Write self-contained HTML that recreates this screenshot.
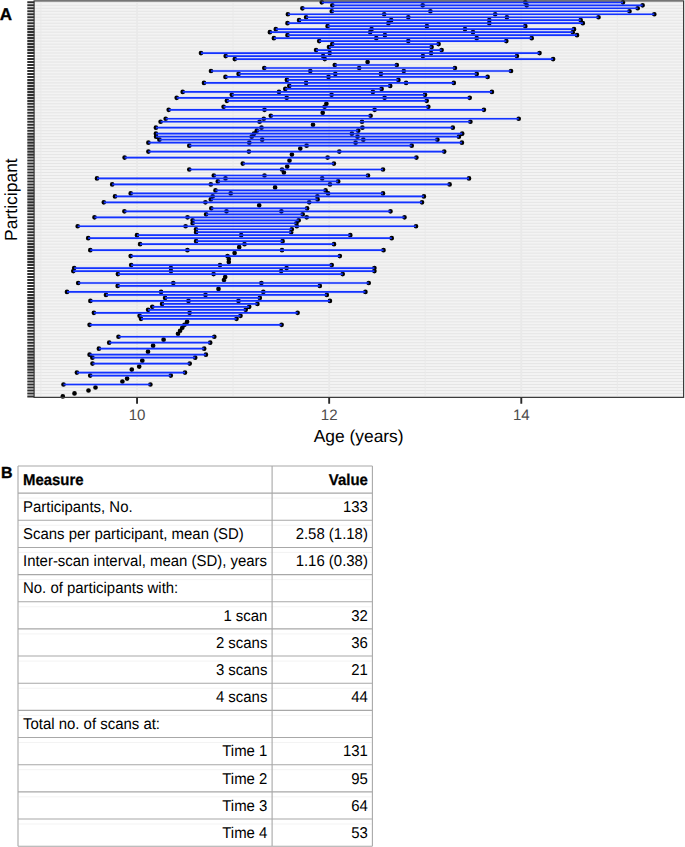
<!DOCTYPE html>
<html><head><meta charset="utf-8"><title>Figure</title><style>
html,body{margin:0;padding:0;background:#fff;}
body{width:685px;height:847px;overflow:hidden;position:relative;font-family:"Liberation Sans",sans-serif;}
svg{position:absolute;left:0;top:0;display:block;}
text{font-family:"Liberation Sans",sans-serif;text-rendering:geometricPrecision;}
</style></head><body>
<svg width="685" height="847" viewBox="0 0 685 847">
<rect x="34.1" y="0.9" width="649.5" height="396.5" fill="#f3f3f3"/>
<path d="M34.1 2.30H683.6M34.1 5.29H683.6M34.1 8.27H683.6M34.1 11.26H683.6M34.1 14.24H683.6M34.1 17.23H683.6M34.1 20.22H683.6M34.1 23.20H683.6M34.1 26.19H683.6M34.1 29.17H683.6M34.1 32.16H683.6M34.1 35.15H683.6M34.1 38.13H683.6M34.1 41.12H683.6M34.1 44.10H683.6M34.1 47.09H683.6M34.1 50.08H683.6M34.1 53.06H683.6M34.1 56.05H683.6M34.1 59.03H683.6M34.1 62.02H683.6M34.1 65.01H683.6M34.1 67.99H683.6M34.1 70.98H683.6M34.1 73.96H683.6M34.1 76.95H683.6M34.1 79.94H683.6M34.1 82.92H683.6M34.1 85.91H683.6M34.1 88.89H683.6M34.1 91.88H683.6M34.1 94.87H683.6M34.1 97.85H683.6M34.1 100.84H683.6M34.1 103.82H683.6M34.1 106.81H683.6M34.1 109.80H683.6M34.1 112.78H683.6M34.1 115.77H683.6M34.1 118.75H683.6M34.1 121.74H683.6M34.1 124.73H683.6M34.1 127.71H683.6M34.1 130.70H683.6M34.1 133.68H683.6M34.1 136.67H683.6M34.1 139.66H683.6M34.1 142.64H683.6M34.1 145.63H683.6M34.1 148.61H683.6M34.1 151.60H683.6M34.1 154.59H683.6M34.1 157.57H683.6M34.1 160.56H683.6M34.1 163.54H683.6M34.1 166.53H683.6M34.1 169.52H683.6M34.1 172.50H683.6M34.1 175.49H683.6M34.1 178.47H683.6M34.1 181.46H683.6M34.1 184.45H683.6M34.1 187.43H683.6M34.1 190.42H683.6M34.1 193.40H683.6M34.1 196.39H683.6M34.1 199.38H683.6M34.1 202.36H683.6M34.1 205.35H683.6M34.1 208.33H683.6M34.1 211.32H683.6M34.1 214.31H683.6M34.1 217.29H683.6M34.1 220.28H683.6M34.1 223.26H683.6M34.1 226.25H683.6M34.1 229.24H683.6M34.1 232.22H683.6M34.1 235.21H683.6M34.1 238.19H683.6M34.1 241.18H683.6M34.1 244.17H683.6M34.1 247.15H683.6M34.1 250.14H683.6M34.1 253.12H683.6M34.1 256.11H683.6M34.1 259.10H683.6M34.1 262.08H683.6M34.1 265.07H683.6M34.1 268.05H683.6M34.1 271.04H683.6M34.1 274.03H683.6M34.1 277.01H683.6M34.1 280.00H683.6M34.1 282.98H683.6M34.1 285.97H683.6M34.1 288.96H683.6M34.1 291.94H683.6M34.1 294.93H683.6M34.1 297.91H683.6M34.1 300.90H683.6M34.1 303.89H683.6M34.1 306.87H683.6M34.1 309.86H683.6M34.1 312.84H683.6M34.1 315.83H683.6M34.1 318.82H683.6M34.1 321.80H683.6M34.1 324.79H683.6M34.1 327.77H683.6M34.1 330.76H683.6M34.1 333.75H683.6M34.1 336.73H683.6M34.1 339.72H683.6M34.1 342.70H683.6M34.1 345.69H683.6M34.1 348.68H683.6M34.1 351.66H683.6M34.1 354.65H683.6M34.1 357.63H683.6M34.1 360.62H683.6M34.1 363.61H683.6M34.1 366.59H683.6M34.1 369.58H683.6M34.1 372.56H683.6M34.1 375.55H683.6M34.1 378.54H683.6M34.1 381.52H683.6M34.1 384.51H683.6M34.1 387.49H683.6M34.1 390.48H683.6M34.1 393.47H683.6M34.1 396.45H683.6" stroke="#e5e5e5" stroke-width="1.0" fill="none"/>
<path d="M40.99 0.9V397.4M233.11 0.9V397.4M425.23 0.9V397.4M617.35 0.9V397.4" stroke="#e9e9e9" stroke-width="0.9" fill="none"/>
<path d="M137.05 0.9V397.4M329.17 0.9V397.4M521.29 0.9V397.4" stroke="#e9e9e9" stroke-width="1.8" fill="none"/>
<path d="M319.45 2.30a2.35 2.35 0 1 0 4.7 0a2.35 2.35 0 1 0 -4.7 0M522.95 2.30a2.35 2.35 0 1 0 4.7 0a2.35 2.35 0 1 0 -4.7 0M620.65 2.30a2.35 2.35 0 1 0 4.7 0a2.35 2.35 0 1 0 -4.7 0M329.95 5.29a2.35 2.35 0 1 0 4.7 0a2.35 2.35 0 1 0 -4.7 0M420.35 5.29a2.35 2.35 0 1 0 4.7 0a2.35 2.35 0 1 0 -4.7 0M524.35 5.29a2.35 2.35 0 1 0 4.7 0a2.35 2.35 0 1 0 -4.7 0M640.25 5.29a2.35 2.35 0 1 0 4.7 0a2.35 2.35 0 1 0 -4.7 0M300.05 8.27a2.35 2.35 0 1 0 4.7 0a2.35 2.35 0 1 0 -4.7 0M635.35 8.27a2.35 2.35 0 1 0 4.7 0a2.35 2.35 0 1 0 -4.7 0M329.45 11.26a2.35 2.35 0 1 0 4.7 0a2.35 2.35 0 1 0 -4.7 0M428.05 11.26a2.35 2.35 0 1 0 4.7 0a2.35 2.35 0 1 0 -4.7 0M627.15 11.26a2.35 2.35 0 1 0 4.7 0a2.35 2.35 0 1 0 -4.7 0M285.55 14.24a2.35 2.35 0 1 0 4.7 0a2.35 2.35 0 1 0 -4.7 0M381.85 14.24a2.35 2.35 0 1 0 4.7 0a2.35 2.35 0 1 0 -4.7 0M492.85 14.24a2.35 2.35 0 1 0 4.7 0a2.35 2.35 0 1 0 -4.7 0M651.95 14.24a2.35 2.35 0 1 0 4.7 0a2.35 2.35 0 1 0 -4.7 0M303.75 17.23a2.35 2.35 0 1 0 4.7 0a2.35 2.35 0 1 0 -4.7 0M405.95 17.23a2.35 2.35 0 1 0 4.7 0a2.35 2.35 0 1 0 -4.7 0M504.55 17.23a2.35 2.35 0 1 0 4.7 0a2.35 2.35 0 1 0 -4.7 0M596.15 17.23a2.35 2.35 0 1 0 4.7 0a2.35 2.35 0 1 0 -4.7 0M296.75 20.22a2.35 2.35 0 1 0 4.7 0a2.35 2.35 0 1 0 -4.7 0M388.85 20.22a2.35 2.35 0 1 0 4.7 0a2.35 2.35 0 1 0 -4.7 0M486.95 20.22a2.35 2.35 0 1 0 4.7 0a2.35 2.35 0 1 0 -4.7 0M578.35 20.22a2.35 2.35 0 1 0 4.7 0a2.35 2.35 0 1 0 -4.7 0M285.15 23.20a2.35 2.35 0 1 0 4.7 0a2.35 2.35 0 1 0 -4.7 0M386.05 23.20a2.35 2.35 0 1 0 4.7 0a2.35 2.35 0 1 0 -4.7 0M486.95 23.20a2.35 2.35 0 1 0 4.7 0a2.35 2.35 0 1 0 -4.7 0M580.45 23.20a2.35 2.35 0 1 0 4.7 0a2.35 2.35 0 1 0 -4.7 0M325.25 26.19a2.35 2.35 0 1 0 4.7 0a2.35 2.35 0 1 0 -4.7 0M424.55 26.19a2.35 2.35 0 1 0 4.7 0a2.35 2.35 0 1 0 -4.7 0M522.95 26.19a2.35 2.35 0 1 0 4.7 0a2.35 2.35 0 1 0 -4.7 0M273.45 29.17a2.35 2.35 0 1 0 4.7 0a2.35 2.35 0 1 0 -4.7 0M369.25 29.17a2.35 2.35 0 1 0 4.7 0a2.35 2.35 0 1 0 -4.7 0M462.65 29.17a2.35 2.35 0 1 0 4.7 0a2.35 2.35 0 1 0 -4.7 0M571.65 29.17a2.35 2.35 0 1 0 4.7 0a2.35 2.35 0 1 0 -4.7 0M267.55 32.16a2.35 2.35 0 1 0 4.7 0a2.35 2.35 0 1 0 -4.7 0M367.85 32.16a2.35 2.35 0 1 0 4.7 0a2.35 2.35 0 1 0 -4.7 0M470.65 32.16a2.35 2.35 0 1 0 4.7 0a2.35 2.35 0 1 0 -4.7 0M570.45 32.16a2.35 2.35 0 1 0 4.7 0a2.35 2.35 0 1 0 -4.7 0M285.15 35.15a2.35 2.35 0 1 0 4.7 0a2.35 2.35 0 1 0 -4.7 0M382.55 35.15a2.35 2.35 0 1 0 4.7 0a2.35 2.35 0 1 0 -4.7 0M574.65 35.15a2.35 2.35 0 1 0 4.7 0a2.35 2.35 0 1 0 -4.7 0M271.55 38.13a2.35 2.35 0 1 0 4.7 0a2.35 2.35 0 1 0 -4.7 0M373.95 38.13a2.35 2.35 0 1 0 4.7 0a2.35 2.35 0 1 0 -4.7 0M474.35 38.13a2.35 2.35 0 1 0 4.7 0a2.35 2.35 0 1 0 -4.7 0M529.35 38.13a2.35 2.35 0 1 0 4.7 0a2.35 2.35 0 1 0 -4.7 0M316.85 41.12a2.35 2.35 0 1 0 4.7 0a2.35 2.35 0 1 0 -4.7 0M405.95 41.12a2.35 2.35 0 1 0 4.7 0a2.35 2.35 0 1 0 -4.7 0M503.95 41.12a2.35 2.35 0 1 0 4.7 0a2.35 2.35 0 1 0 -4.7 0M329.95 44.10a2.35 2.35 0 1 0 4.7 0a2.35 2.35 0 1 0 -4.7 0M436.25 44.10a2.35 2.35 0 1 0 4.7 0a2.35 2.35 0 1 0 -4.7 0M326.65 47.09a2.35 2.35 0 1 0 4.7 0a2.35 2.35 0 1 0 -4.7 0M429.25 47.09a2.35 2.35 0 1 0 4.7 0a2.35 2.35 0 1 0 -4.7 0M313.75 50.08a2.35 2.35 0 1 0 4.7 0a2.35 2.35 0 1 0 -4.7 0M439.25 50.08a2.35 2.35 0 1 0 4.7 0a2.35 2.35 0 1 0 -4.7 0M198.65 53.06a2.35 2.35 0 1 0 4.7 0a2.35 2.35 0 1 0 -4.7 0M327.35 53.06a2.35 2.35 0 1 0 4.7 0a2.35 2.35 0 1 0 -4.7 0M428.75 53.06a2.35 2.35 0 1 0 4.7 0a2.35 2.35 0 1 0 -4.7 0M537.15 53.06a2.35 2.35 0 1 0 4.7 0a2.35 2.35 0 1 0 -4.7 0M223.35 56.05a2.35 2.35 0 1 0 4.7 0a2.35 2.35 0 1 0 -4.7 0M320.75 56.05a2.35 2.35 0 1 0 4.7 0a2.35 2.35 0 1 0 -4.7 0M420.55 56.05a2.35 2.35 0 1 0 4.7 0a2.35 2.35 0 1 0 -4.7 0M514.55 56.05a2.35 2.35 0 1 0 4.7 0a2.35 2.35 0 1 0 -4.7 0M232.45 59.03a2.35 2.35 0 1 0 4.7 0a2.35 2.35 0 1 0 -4.7 0M322.45 59.03a2.35 2.35 0 1 0 4.7 0a2.35 2.35 0 1 0 -4.7 0M550.75 59.03a2.35 2.35 0 1 0 4.7 0a2.35 2.35 0 1 0 -4.7 0M365.25 62.02a2.35 2.35 0 1 0 4.7 0a2.35 2.35 0 1 0 -4.7 0M332.45 65.01a2.35 2.35 0 1 0 4.7 0a2.35 2.35 0 1 0 -4.7 0M394.45 65.01a2.35 2.35 0 1 0 4.7 0a2.35 2.35 0 1 0 -4.7 0M261.95 67.99a2.35 2.35 0 1 0 4.7 0a2.35 2.35 0 1 0 -4.7 0M356.85 67.99a2.35 2.35 0 1 0 4.7 0a2.35 2.35 0 1 0 -4.7 0M452.55 67.99a2.35 2.35 0 1 0 4.7 0a2.35 2.35 0 1 0 -4.7 0M208.65 70.98a2.35 2.35 0 1 0 4.7 0a2.35 2.35 0 1 0 -4.7 0M307.95 70.98a2.35 2.35 0 1 0 4.7 0a2.35 2.35 0 1 0 -4.7 0M401.45 70.98a2.35 2.35 0 1 0 4.7 0a2.35 2.35 0 1 0 -4.7 0M508.65 70.98a2.35 2.35 0 1 0 4.7 0a2.35 2.35 0 1 0 -4.7 0M236.25 73.96a2.35 2.35 0 1 0 4.7 0a2.35 2.35 0 1 0 -4.7 0M332.95 73.96a2.35 2.35 0 1 0 4.7 0a2.35 2.35 0 1 0 -4.7 0M378.55 73.96a2.35 2.35 0 1 0 4.7 0a2.35 2.35 0 1 0 -4.7 0M474.35 73.96a2.35 2.35 0 1 0 4.7 0a2.35 2.35 0 1 0 -4.7 0M223.15 76.95a2.35 2.35 0 1 0 4.7 0a2.35 2.35 0 1 0 -4.7 0M326.15 76.95a2.35 2.35 0 1 0 4.7 0a2.35 2.35 0 1 0 -4.7 0M485.25 76.95a2.35 2.35 0 1 0 4.7 0a2.35 2.35 0 1 0 -4.7 0M284.55 79.94a2.35 2.35 0 1 0 4.7 0a2.35 2.35 0 1 0 -4.7 0M396.05 79.94a2.35 2.35 0 1 0 4.7 0a2.35 2.35 0 1 0 -4.7 0M201.65 82.92a2.35 2.35 0 1 0 4.7 0a2.35 2.35 0 1 0 -4.7 0M303.75 82.92a2.35 2.35 0 1 0 4.7 0a2.35 2.35 0 1 0 -4.7 0M403.75 82.92a2.35 2.35 0 1 0 4.7 0a2.35 2.35 0 1 0 -4.7 0M451.45 82.92a2.35 2.35 0 1 0 4.7 0a2.35 2.35 0 1 0 -4.7 0M286.95 85.91a2.35 2.35 0 1 0 4.7 0a2.35 2.35 0 1 0 -4.7 0M387.85 85.91a2.35 2.35 0 1 0 4.7 0a2.35 2.35 0 1 0 -4.7 0M282.95 88.89a2.35 2.35 0 1 0 4.7 0a2.35 2.35 0 1 0 -4.7 0M379.25 88.89a2.35 2.35 0 1 0 4.7 0a2.35 2.35 0 1 0 -4.7 0M180.35 91.88a2.35 2.35 0 1 0 4.7 0a2.35 2.35 0 1 0 -4.7 0M276.65 91.88a2.35 2.35 0 1 0 4.7 0a2.35 2.35 0 1 0 -4.7 0M370.55 91.88a2.35 2.35 0 1 0 4.7 0a2.35 2.35 0 1 0 -4.7 0M489.55 91.88a2.35 2.35 0 1 0 4.7 0a2.35 2.35 0 1 0 -4.7 0M229.45 94.87a2.35 2.35 0 1 0 4.7 0a2.35 2.35 0 1 0 -4.7 0M329.25 94.87a2.35 2.35 0 1 0 4.7 0a2.35 2.35 0 1 0 -4.7 0M422.65 94.87a2.35 2.35 0 1 0 4.7 0a2.35 2.35 0 1 0 -4.7 0M174.35 97.85a2.35 2.35 0 1 0 4.7 0a2.35 2.35 0 1 0 -4.7 0M284.35 97.85a2.35 2.35 0 1 0 4.7 0a2.35 2.35 0 1 0 -4.7 0M382.25 97.85a2.35 2.35 0 1 0 4.7 0a2.35 2.35 0 1 0 -4.7 0M467.35 97.85a2.35 2.35 0 1 0 4.7 0a2.35 2.35 0 1 0 -4.7 0M224.55 100.84a2.35 2.35 0 1 0 4.7 0a2.35 2.35 0 1 0 -4.7 0M424.35 100.84a2.35 2.35 0 1 0 4.7 0a2.35 2.35 0 1 0 -4.7 0M324.05 103.82a2.35 2.35 0 1 0 4.7 0a2.35 2.35 0 1 0 -4.7 0M221.25 106.81a2.35 2.35 0 1 0 4.7 0a2.35 2.35 0 1 0 -4.7 0M322.25 106.81a2.35 2.35 0 1 0 4.7 0a2.35 2.35 0 1 0 -4.7 0M425.95 106.81a2.35 2.35 0 1 0 4.7 0a2.35 2.35 0 1 0 -4.7 0M166.35 109.80a2.35 2.35 0 1 0 4.7 0a2.35 2.35 0 1 0 -4.7 0M262.15 109.80a2.35 2.35 0 1 0 4.7 0a2.35 2.35 0 1 0 -4.7 0M372.25 109.80a2.35 2.35 0 1 0 4.7 0a2.35 2.35 0 1 0 -4.7 0M481.55 109.80a2.35 2.35 0 1 0 4.7 0a2.35 2.35 0 1 0 -4.7 0M320.35 112.78a2.35 2.35 0 1 0 4.7 0a2.35 2.35 0 1 0 -4.7 0M268.45 115.77a2.35 2.35 0 1 0 4.7 0a2.35 2.35 0 1 0 -4.7 0M368.25 115.77a2.35 2.35 0 1 0 4.7 0a2.35 2.35 0 1 0 -4.7 0M163.35 118.75a2.35 2.35 0 1 0 4.7 0a2.35 2.35 0 1 0 -4.7 0M261.45 118.75a2.35 2.35 0 1 0 4.7 0a2.35 2.35 0 1 0 -4.7 0M516.35 118.75a2.35 2.35 0 1 0 4.7 0a2.35 2.35 0 1 0 -4.7 0M158.25 121.74a2.35 2.35 0 1 0 4.7 0a2.35 2.35 0 1 0 -4.7 0M257.25 121.74a2.35 2.35 0 1 0 4.7 0a2.35 2.35 0 1 0 -4.7 0M359.65 121.74a2.35 2.35 0 1 0 4.7 0a2.35 2.35 0 1 0 -4.7 0M468.05 121.74a2.35 2.35 0 1 0 4.7 0a2.35 2.35 0 1 0 -4.7 0M310.65 124.73a2.35 2.35 0 1 0 4.7 0a2.35 2.35 0 1 0 -4.7 0M153.55 127.71a2.35 2.35 0 1 0 4.7 0a2.35 2.35 0 1 0 -4.7 0M259.15 127.71a2.35 2.35 0 1 0 4.7 0a2.35 2.35 0 1 0 -4.7 0M360.05 127.71a2.35 2.35 0 1 0 4.7 0a2.35 2.35 0 1 0 -4.7 0M450.45 127.71a2.35 2.35 0 1 0 4.7 0a2.35 2.35 0 1 0 -4.7 0M254.45 130.70a2.35 2.35 0 1 0 4.7 0a2.35 2.35 0 1 0 -4.7 0M355.85 130.70a2.35 2.35 0 1 0 4.7 0a2.35 2.35 0 1 0 -4.7 0M153.55 133.68a2.35 2.35 0 1 0 4.7 0a2.35 2.35 0 1 0 -4.7 0M251.65 133.68a2.35 2.35 0 1 0 4.7 0a2.35 2.35 0 1 0 -4.7 0M349.55 133.68a2.35 2.35 0 1 0 4.7 0a2.35 2.35 0 1 0 -4.7 0M459.85 133.68a2.35 2.35 0 1 0 4.7 0a2.35 2.35 0 1 0 -4.7 0M153.75 136.67a2.35 2.35 0 1 0 4.7 0a2.35 2.35 0 1 0 -4.7 0M249.35 136.67a2.35 2.35 0 1 0 4.7 0a2.35 2.35 0 1 0 -4.7 0M355.15 136.67a2.35 2.35 0 1 0 4.7 0a2.35 2.35 0 1 0 -4.7 0M456.55 136.67a2.35 2.35 0 1 0 4.7 0a2.35 2.35 0 1 0 -4.7 0M157.05 139.66a2.35 2.35 0 1 0 4.7 0a2.35 2.35 0 1 0 -4.7 0M259.85 139.66a2.35 2.35 0 1 0 4.7 0a2.35 2.35 0 1 0 -4.7 0M360.95 139.66a2.35 2.35 0 1 0 4.7 0a2.35 2.35 0 1 0 -4.7 0M435.05 139.66a2.35 2.35 0 1 0 4.7 0a2.35 2.35 0 1 0 -4.7 0M146.05 142.64a2.35 2.35 0 1 0 4.7 0a2.35 2.35 0 1 0 -4.7 0M246.95 142.64a2.35 2.35 0 1 0 4.7 0a2.35 2.35 0 1 0 -4.7 0M353.25 142.64a2.35 2.35 0 1 0 4.7 0a2.35 2.35 0 1 0 -4.7 0M459.55 142.64a2.35 2.35 0 1 0 4.7 0a2.35 2.35 0 1 0 -4.7 0M186.95 145.63a2.35 2.35 0 1 0 4.7 0a2.35 2.35 0 1 0 -4.7 0M304.25 145.63a2.35 2.35 0 1 0 4.7 0a2.35 2.35 0 1 0 -4.7 0M409.35 145.63a2.35 2.35 0 1 0 4.7 0a2.35 2.35 0 1 0 -4.7 0M297.95 148.61a2.35 2.35 0 1 0 4.7 0a2.35 2.35 0 1 0 -4.7 0M146.05 151.60a2.35 2.35 0 1 0 4.7 0a2.35 2.35 0 1 0 -4.7 0M246.55 151.60a2.35 2.35 0 1 0 4.7 0a2.35 2.35 0 1 0 -4.7 0M336.95 151.60a2.35 2.35 0 1 0 4.7 0a2.35 2.35 0 1 0 -4.7 0M441.85 151.60a2.35 2.35 0 1 0 4.7 0a2.35 2.35 0 1 0 -4.7 0M289.55 154.59a2.35 2.35 0 1 0 4.7 0a2.35 2.35 0 1 0 -4.7 0M122.25 157.57a2.35 2.35 0 1 0 4.7 0a2.35 2.35 0 1 0 -4.7 0M325.25 157.57a2.35 2.35 0 1 0 4.7 0a2.35 2.35 0 1 0 -4.7 0M414.05 157.57a2.35 2.35 0 1 0 4.7 0a2.35 2.35 0 1 0 -4.7 0M287.15 160.56a2.35 2.35 0 1 0 4.7 0a2.35 2.35 0 1 0 -4.7 0M240.45 163.54a2.35 2.35 0 1 0 4.7 0a2.35 2.35 0 1 0 -4.7 0M331.55 163.54a2.35 2.35 0 1 0 4.7 0a2.35 2.35 0 1 0 -4.7 0M284.85 166.53a2.35 2.35 0 1 0 4.7 0a2.35 2.35 0 1 0 -4.7 0M186.95 169.52a2.35 2.35 0 1 0 4.7 0a2.35 2.35 0 1 0 -4.7 0M279.65 169.52a2.35 2.35 0 1 0 4.7 0a2.35 2.35 0 1 0 -4.7 0M380.65 169.52a2.35 2.35 0 1 0 4.7 0a2.35 2.35 0 1 0 -4.7 0M281.55 172.50a2.35 2.35 0 1 0 4.7 0a2.35 2.35 0 1 0 -4.7 0M211.45 175.49a2.35 2.35 0 1 0 4.7 0a2.35 2.35 0 1 0 -4.7 0M262.15 175.49a2.35 2.35 0 1 0 4.7 0a2.35 2.35 0 1 0 -4.7 0M365.65 175.49a2.35 2.35 0 1 0 4.7 0a2.35 2.35 0 1 0 -4.7 0M94.65 178.47a2.35 2.35 0 1 0 4.7 0a2.35 2.35 0 1 0 -4.7 0M223.15 178.47a2.35 2.35 0 1 0 4.7 0a2.35 2.35 0 1 0 -4.7 0M319.85 178.47a2.35 2.35 0 1 0 4.7 0a2.35 2.35 0 1 0 -4.7 0M466.65 178.47a2.35 2.35 0 1 0 4.7 0a2.35 2.35 0 1 0 -4.7 0M215.45 181.46a2.35 2.35 0 1 0 4.7 0a2.35 2.35 0 1 0 -4.7 0M335.85 181.46a2.35 2.35 0 1 0 4.7 0a2.35 2.35 0 1 0 -4.7 0M109.85 184.45a2.35 2.35 0 1 0 4.7 0a2.35 2.35 0 1 0 -4.7 0M208.45 184.45a2.35 2.35 0 1 0 4.7 0a2.35 2.35 0 1 0 -4.7 0M327.65 184.45a2.35 2.35 0 1 0 4.7 0a2.35 2.35 0 1 0 -4.7 0M447.25 184.45a2.35 2.35 0 1 0 4.7 0a2.35 2.35 0 1 0 -4.7 0M272.75 187.43a2.35 2.35 0 1 0 4.7 0a2.35 2.35 0 1 0 -4.7 0M213.15 190.42a2.35 2.35 0 1 0 4.7 0a2.35 2.35 0 1 0 -4.7 0M323.25 190.42a2.35 2.35 0 1 0 4.7 0a2.35 2.35 0 1 0 -4.7 0M128.35 193.40a2.35 2.35 0 1 0 4.7 0a2.35 2.35 0 1 0 -4.7 0M228.35 193.40a2.35 2.35 0 1 0 4.7 0a2.35 2.35 0 1 0 -4.7 0M325.75 193.40a2.35 2.35 0 1 0 4.7 0a2.35 2.35 0 1 0 -4.7 0M380.65 193.40a2.35 2.35 0 1 0 4.7 0a2.35 2.35 0 1 0 -4.7 0M112.65 196.39a2.35 2.35 0 1 0 4.7 0a2.35 2.35 0 1 0 -4.7 0M210.35 196.39a2.35 2.35 0 1 0 4.7 0a2.35 2.35 0 1 0 -4.7 0M315.05 196.39a2.35 2.35 0 1 0 4.7 0a2.35 2.35 0 1 0 -4.7 0M421.55 196.39a2.35 2.35 0 1 0 4.7 0a2.35 2.35 0 1 0 -4.7 0M208.45 199.38a2.35 2.35 0 1 0 4.7 0a2.35 2.35 0 1 0 -4.7 0M315.25 199.38a2.35 2.35 0 1 0 4.7 0a2.35 2.35 0 1 0 -4.7 0M101.45 202.36a2.35 2.35 0 1 0 4.7 0a2.35 2.35 0 1 0 -4.7 0M203.05 202.36a2.35 2.35 0 1 0 4.7 0a2.35 2.35 0 1 0 -4.7 0M306.85 202.36a2.35 2.35 0 1 0 4.7 0a2.35 2.35 0 1 0 -4.7 0M419.65 202.36a2.35 2.35 0 1 0 4.7 0a2.35 2.35 0 1 0 -4.7 0M256.85 205.35a2.35 2.35 0 1 0 4.7 0a2.35 2.35 0 1 0 -4.7 0M208.95 208.33a2.35 2.35 0 1 0 4.7 0a2.35 2.35 0 1 0 -4.7 0M304.75 208.33a2.35 2.35 0 1 0 4.7 0a2.35 2.35 0 1 0 -4.7 0M122.05 211.32a2.35 2.35 0 1 0 4.7 0a2.35 2.35 0 1 0 -4.7 0M224.15 211.32a2.35 2.35 0 1 0 4.7 0a2.35 2.35 0 1 0 -4.7 0M279.05 211.32a2.35 2.35 0 1 0 4.7 0a2.35 2.35 0 1 0 -4.7 0M388.15 211.32a2.35 2.35 0 1 0 4.7 0a2.35 2.35 0 1 0 -4.7 0M203.75 214.31a2.35 2.35 0 1 0 4.7 0a2.35 2.35 0 1 0 -4.7 0M300.35 214.31a2.35 2.35 0 1 0 4.7 0a2.35 2.35 0 1 0 -4.7 0M92.15 217.29a2.35 2.35 0 1 0 4.7 0a2.35 2.35 0 1 0 -4.7 0M185.15 217.29a2.35 2.35 0 1 0 4.7 0a2.35 2.35 0 1 0 -4.7 0M304.35 217.29a2.35 2.35 0 1 0 4.7 0a2.35 2.35 0 1 0 -4.7 0M402.15 217.29a2.35 2.35 0 1 0 4.7 0a2.35 2.35 0 1 0 -4.7 0M190.25 220.28a2.35 2.35 0 1 0 4.7 0a2.35 2.35 0 1 0 -4.7 0M296.35 220.28a2.35 2.35 0 1 0 4.7 0a2.35 2.35 0 1 0 -4.7 0M190.25 223.26a2.35 2.35 0 1 0 4.7 0a2.35 2.35 0 1 0 -4.7 0M294.05 223.26a2.35 2.35 0 1 0 4.7 0a2.35 2.35 0 1 0 -4.7 0M75.35 226.25a2.35 2.35 0 1 0 4.7 0a2.35 2.35 0 1 0 -4.7 0M183.25 226.25a2.35 2.35 0 1 0 4.7 0a2.35 2.35 0 1 0 -4.7 0M294.45 226.25a2.35 2.35 0 1 0 4.7 0a2.35 2.35 0 1 0 -4.7 0M413.65 226.25a2.35 2.35 0 1 0 4.7 0a2.35 2.35 0 1 0 -4.7 0M193.65 229.24a2.35 2.35 0 1 0 4.7 0a2.35 2.35 0 1 0 -4.7 0M289.45 229.24a2.35 2.35 0 1 0 4.7 0a2.35 2.35 0 1 0 -4.7 0M193.75 232.22a2.35 2.35 0 1 0 4.7 0a2.35 2.35 0 1 0 -4.7 0M288.85 232.22a2.35 2.35 0 1 0 4.7 0a2.35 2.35 0 1 0 -4.7 0M134.65 235.21a2.35 2.35 0 1 0 4.7 0a2.35 2.35 0 1 0 -4.7 0M238.85 235.21a2.35 2.35 0 1 0 4.7 0a2.35 2.35 0 1 0 -4.7 0M347.95 235.21a2.35 2.35 0 1 0 4.7 0a2.35 2.35 0 1 0 -4.7 0M85.85 238.19a2.35 2.35 0 1 0 4.7 0a2.35 2.35 0 1 0 -4.7 0M389.35 238.19a2.35 2.35 0 1 0 4.7 0a2.35 2.35 0 1 0 -4.7 0M193.75 241.18a2.35 2.35 0 1 0 4.7 0a2.35 2.35 0 1 0 -4.7 0M280.25 241.18a2.35 2.35 0 1 0 4.7 0a2.35 2.35 0 1 0 -4.7 0M137.75 244.17a2.35 2.35 0 1 0 4.7 0a2.35 2.35 0 1 0 -4.7 0M242.15 244.17a2.35 2.35 0 1 0 4.7 0a2.35 2.35 0 1 0 -4.7 0M331.65 244.17a2.35 2.35 0 1 0 4.7 0a2.35 2.35 0 1 0 -4.7 0M236.85 247.15a2.35 2.35 0 1 0 4.7 0a2.35 2.35 0 1 0 -4.7 0M87.95 250.14a2.35 2.35 0 1 0 4.7 0a2.35 2.35 0 1 0 -4.7 0M185.05 250.14a2.35 2.35 0 1 0 4.7 0a2.35 2.35 0 1 0 -4.7 0M279.65 250.14a2.35 2.35 0 1 0 4.7 0a2.35 2.35 0 1 0 -4.7 0M381.15 250.14a2.35 2.35 0 1 0 4.7 0a2.35 2.35 0 1 0 -4.7 0M232.25 253.12a2.35 2.35 0 1 0 4.7 0a2.35 2.35 0 1 0 -4.7 0M128.35 256.11a2.35 2.35 0 1 0 4.7 0a2.35 2.35 0 1 0 -4.7 0M225.15 256.11a2.35 2.35 0 1 0 4.7 0a2.35 2.35 0 1 0 -4.7 0M337.45 256.11a2.35 2.35 0 1 0 4.7 0a2.35 2.35 0 1 0 -4.7 0M226.45 259.10a2.35 2.35 0 1 0 4.7 0a2.35 2.35 0 1 0 -4.7 0M226.45 262.08a2.35 2.35 0 1 0 4.7 0a2.35 2.35 0 1 0 -4.7 0M128.85 265.07a2.35 2.35 0 1 0 4.7 0a2.35 2.35 0 1 0 -4.7 0M217.65 265.07a2.35 2.35 0 1 0 4.7 0a2.35 2.35 0 1 0 -4.7 0M329.35 265.07a2.35 2.35 0 1 0 4.7 0a2.35 2.35 0 1 0 -4.7 0M71.85 268.05a2.35 2.35 0 1 0 4.7 0a2.35 2.35 0 1 0 -4.7 0M168.55 268.05a2.35 2.35 0 1 0 4.7 0a2.35 2.35 0 1 0 -4.7 0M284.25 268.05a2.35 2.35 0 1 0 4.7 0a2.35 2.35 0 1 0 -4.7 0M372.05 268.05a2.35 2.35 0 1 0 4.7 0a2.35 2.35 0 1 0 -4.7 0M70.95 271.04a2.35 2.35 0 1 0 4.7 0a2.35 2.35 0 1 0 -4.7 0M168.65 271.04a2.35 2.35 0 1 0 4.7 0a2.35 2.35 0 1 0 -4.7 0M278.85 271.04a2.35 2.35 0 1 0 4.7 0a2.35 2.35 0 1 0 -4.7 0M372.05 271.04a2.35 2.35 0 1 0 4.7 0a2.35 2.35 0 1 0 -4.7 0M115.55 274.03a2.35 2.35 0 1 0 4.7 0a2.35 2.35 0 1 0 -4.7 0M211.25 274.03a2.35 2.35 0 1 0 4.7 0a2.35 2.35 0 1 0 -4.7 0M340.35 274.03a2.35 2.35 0 1 0 4.7 0a2.35 2.35 0 1 0 -4.7 0M222.85 277.01a2.35 2.35 0 1 0 4.7 0a2.35 2.35 0 1 0 -4.7 0M221.65 280.00a2.35 2.35 0 1 0 4.7 0a2.35 2.35 0 1 0 -4.7 0M75.85 282.98a2.35 2.35 0 1 0 4.7 0a2.35 2.35 0 1 0 -4.7 0M170.95 282.98a2.35 2.35 0 1 0 4.7 0a2.35 2.35 0 1 0 -4.7 0M259.05 282.98a2.35 2.35 0 1 0 4.7 0a2.35 2.35 0 1 0 -4.7 0M366.35 282.98a2.35 2.35 0 1 0 4.7 0a2.35 2.35 0 1 0 -4.7 0M115.35 285.97a2.35 2.35 0 1 0 4.7 0a2.35 2.35 0 1 0 -4.7 0M317.45 285.97a2.35 2.35 0 1 0 4.7 0a2.35 2.35 0 1 0 -4.7 0M216.15 288.96a2.35 2.35 0 1 0 4.7 0a2.35 2.35 0 1 0 -4.7 0M64.65 291.94a2.35 2.35 0 1 0 4.7 0a2.35 2.35 0 1 0 -4.7 0M158.75 291.94a2.35 2.35 0 1 0 4.7 0a2.35 2.35 0 1 0 -4.7 0M260.95 291.94a2.35 2.35 0 1 0 4.7 0a2.35 2.35 0 1 0 -4.7 0M363.05 291.94a2.35 2.35 0 1 0 4.7 0a2.35 2.35 0 1 0 -4.7 0M103.65 294.93a2.35 2.35 0 1 0 4.7 0a2.35 2.35 0 1 0 -4.7 0M203.15 294.93a2.35 2.35 0 1 0 4.7 0a2.35 2.35 0 1 0 -4.7 0M324.45 294.93a2.35 2.35 0 1 0 4.7 0a2.35 2.35 0 1 0 -4.7 0M162.75 297.91a2.35 2.35 0 1 0 4.7 0a2.35 2.35 0 1 0 -4.7 0M257.45 297.91a2.35 2.35 0 1 0 4.7 0a2.35 2.35 0 1 0 -4.7 0M88.05 300.90a2.35 2.35 0 1 0 4.7 0a2.35 2.35 0 1 0 -4.7 0M186.15 300.90a2.35 2.35 0 1 0 4.7 0a2.35 2.35 0 1 0 -4.7 0M236.15 300.90a2.35 2.35 0 1 0 4.7 0a2.35 2.35 0 1 0 -4.7 0M327.55 300.90a2.35 2.35 0 1 0 4.7 0a2.35 2.35 0 1 0 -4.7 0M159.75 303.89a2.35 2.35 0 1 0 4.7 0a2.35 2.35 0 1 0 -4.7 0M255.05 303.89a2.35 2.35 0 1 0 4.7 0a2.35 2.35 0 1 0 -4.7 0M149.95 306.87a2.35 2.35 0 1 0 4.7 0a2.35 2.35 0 1 0 -4.7 0M246.85 306.87a2.35 2.35 0 1 0 4.7 0a2.35 2.35 0 1 0 -4.7 0M145.75 309.86a2.35 2.35 0 1 0 4.7 0a2.35 2.35 0 1 0 -4.7 0M243.35 309.86a2.35 2.35 0 1 0 4.7 0a2.35 2.35 0 1 0 -4.7 0M91.55 312.84a2.35 2.35 0 1 0 4.7 0a2.35 2.35 0 1 0 -4.7 0M187.25 312.84a2.35 2.35 0 1 0 4.7 0a2.35 2.35 0 1 0 -4.7 0M295.25 312.84a2.35 2.35 0 1 0 4.7 0a2.35 2.35 0 1 0 -4.7 0M137.25 315.83a2.35 2.35 0 1 0 4.7 0a2.35 2.35 0 1 0 -4.7 0M238.15 315.83a2.35 2.35 0 1 0 4.7 0a2.35 2.35 0 1 0 -4.7 0M138.65 318.82a2.35 2.35 0 1 0 4.7 0a2.35 2.35 0 1 0 -4.7 0M234.15 318.82a2.35 2.35 0 1 0 4.7 0a2.35 2.35 0 1 0 -4.7 0M184.75 321.80a2.35 2.35 0 1 0 4.7 0a2.35 2.35 0 1 0 -4.7 0M87.25 324.79a2.35 2.35 0 1 0 4.7 0a2.35 2.35 0 1 0 -4.7 0M182.15 324.79a2.35 2.35 0 1 0 4.7 0a2.35 2.35 0 1 0 -4.7 0M279.25 324.79a2.35 2.35 0 1 0 4.7 0a2.35 2.35 0 1 0 -4.7 0M179.95 327.77a2.35 2.35 0 1 0 4.7 0a2.35 2.35 0 1 0 -4.7 0M177.75 330.76a2.35 2.35 0 1 0 4.7 0a2.35 2.35 0 1 0 -4.7 0M175.65 333.75a2.35 2.35 0 1 0 4.7 0a2.35 2.35 0 1 0 -4.7 0M116.15 336.73a2.35 2.35 0 1 0 4.7 0a2.35 2.35 0 1 0 -4.7 0M211.95 336.73a2.35 2.35 0 1 0 4.7 0a2.35 2.35 0 1 0 -4.7 0M161.25 339.72a2.35 2.35 0 1 0 4.7 0a2.35 2.35 0 1 0 -4.7 0M106.85 342.70a2.35 2.35 0 1 0 4.7 0a2.35 2.35 0 1 0 -4.7 0M207.85 342.70a2.35 2.35 0 1 0 4.7 0a2.35 2.35 0 1 0 -4.7 0M150.75 345.69a2.35 2.35 0 1 0 4.7 0a2.35 2.35 0 1 0 -4.7 0M96.55 348.68a2.35 2.35 0 1 0 4.7 0a2.35 2.35 0 1 0 -4.7 0M201.85 348.68a2.35 2.35 0 1 0 4.7 0a2.35 2.35 0 1 0 -4.7 0M145.65 351.66a2.35 2.35 0 1 0 4.7 0a2.35 2.35 0 1 0 -4.7 0M87.25 354.65a2.35 2.35 0 1 0 4.7 0a2.35 2.35 0 1 0 -4.7 0M203.55 354.65a2.35 2.35 0 1 0 4.7 0a2.35 2.35 0 1 0 -4.7 0M90.05 357.63a2.35 2.35 0 1 0 4.7 0a2.35 2.35 0 1 0 -4.7 0M192.85 357.63a2.35 2.35 0 1 0 4.7 0a2.35 2.35 0 1 0 -4.7 0M139.95 360.62a2.35 2.35 0 1 0 4.7 0a2.35 2.35 0 1 0 -4.7 0M90.15 363.61a2.35 2.35 0 1 0 4.7 0a2.35 2.35 0 1 0 -4.7 0M187.35 363.61a2.35 2.35 0 1 0 4.7 0a2.35 2.35 0 1 0 -4.7 0M136.85 366.59a2.35 2.35 0 1 0 4.7 0a2.35 2.35 0 1 0 -4.7 0M129.45 369.58a2.35 2.35 0 1 0 4.7 0a2.35 2.35 0 1 0 -4.7 0M74.55 372.56a2.35 2.35 0 1 0 4.7 0a2.35 2.35 0 1 0 -4.7 0M182.65 372.56a2.35 2.35 0 1 0 4.7 0a2.35 2.35 0 1 0 -4.7 0M87.85 375.55a2.35 2.35 0 1 0 4.7 0a2.35 2.35 0 1 0 -4.7 0M168.45 375.55a2.35 2.35 0 1 0 4.7 0a2.35 2.35 0 1 0 -4.7 0M124.75 378.54a2.35 2.35 0 1 0 4.7 0a2.35 2.35 0 1 0 -4.7 0M120.05 381.52a2.35 2.35 0 1 0 4.7 0a2.35 2.35 0 1 0 -4.7 0M61.15 384.51a2.35 2.35 0 1 0 4.7 0a2.35 2.35 0 1 0 -4.7 0M148.05 384.51a2.35 2.35 0 1 0 4.7 0a2.35 2.35 0 1 0 -4.7 0M93.15 387.49a2.35 2.35 0 1 0 4.7 0a2.35 2.35 0 1 0 -4.7 0M86.15 390.48a2.35 2.35 0 1 0 4.7 0a2.35 2.35 0 1 0 -4.7 0M72.15 393.47a2.35 2.35 0 1 0 4.7 0a2.35 2.35 0 1 0 -4.7 0M60.45 396.45a2.35 2.35 0 1 0 4.7 0a2.35 2.35 0 1 0 -4.7 0" fill="#000"/>
<path d="M321.80 2.30H623.00M332.30 5.29H642.60M302.40 8.27H637.70M331.80 11.26H629.50M287.90 14.24H654.30M306.10 17.23H598.50M299.10 20.22H580.70M287.50 23.20H582.80M327.60 26.19H525.30M275.80 29.17H574.00M269.90 32.16H572.80M287.50 35.15H577.00M273.90 38.13H531.70M319.20 41.12H506.30M332.30 44.10H438.60M329.00 47.09H431.60M316.10 50.08H441.60M201.00 53.06H539.50M225.70 56.05H516.90M234.80 59.03H553.10M334.80 65.01H396.80M264.30 67.99H454.90M211.00 70.98H511.00M238.60 73.96H476.70M225.50 76.95H487.60M286.90 79.94H398.40M204.00 82.92H453.80M289.30 85.91H390.20M285.30 88.89H381.60M182.70 91.88H491.90M231.80 94.87H425.00M176.70 97.85H469.70M226.90 100.84H426.70M223.60 106.81H428.30M168.70 109.80H483.90M270.80 115.77H370.60M165.70 118.75H518.70M160.60 121.74H470.40M155.90 127.71H452.80M256.80 130.70H358.20M155.90 133.68H462.20M156.10 136.67H458.90M159.40 139.66H437.40M148.40 142.64H461.90M189.30 145.63H411.70M148.40 151.60H444.20M124.60 157.57H416.40M242.80 163.54H333.90M189.30 169.52H383.00M213.80 175.49H368.00M97.00 178.47H469.00M217.80 181.46H338.20M112.20 184.45H449.60M215.50 190.42H325.60M130.70 193.40H383.00M115.00 196.39H423.90M210.80 199.38H317.60M103.80 202.36H422.00M211.30 208.33H307.10M124.40 211.32H390.50M206.10 214.31H302.70M94.50 217.29H404.50M192.60 220.28H298.70M192.60 223.26H296.40M77.70 226.25H416.00M196.00 229.24H291.80M196.10 232.22H291.20M137.00 235.21H350.30M88.20 238.19H391.70M196.10 241.18H282.60M140.10 244.17H334.00M90.30 250.14H383.50M130.70 256.11H339.80M131.20 265.07H331.70M74.20 268.05H374.40M73.30 271.04H374.40M117.90 274.03H342.70M78.20 282.98H368.70M117.70 285.97H319.80M67.00 291.94H365.40M106.00 294.93H326.80M165.10 297.91H259.80M90.40 300.90H329.90M162.10 303.89H257.40M152.30 306.87H249.20M148.10 309.86H245.70M93.90 312.84H297.60M139.60 315.83H240.50M141.00 318.82H236.50M89.60 324.79H281.60M118.50 336.73H214.30M109.20 342.70H210.20M98.90 348.68H204.20M89.60 354.65H205.90M92.40 357.63H195.20M92.50 363.61H189.70M76.90 372.56H185.00M90.20 375.55H170.80M63.50 384.51H150.40" stroke="#3a5aff" stroke-opacity="0.15" stroke-width="3.0" fill="none"/>
<path d="M321.80 2.30H623.00M332.30 5.29H642.60M302.40 8.27H637.70M331.80 11.26H629.50M287.90 14.24H654.30M306.10 17.23H598.50M299.10 20.22H580.70M287.50 23.20H582.80M327.60 26.19H525.30M275.80 29.17H574.00M269.90 32.16H572.80M287.50 35.15H577.00M273.90 38.13H531.70M319.20 41.12H506.30M332.30 44.10H438.60M329.00 47.09H431.60M316.10 50.08H441.60M201.00 53.06H539.50M225.70 56.05H516.90M234.80 59.03H553.10M334.80 65.01H396.80M264.30 67.99H454.90M211.00 70.98H511.00M238.60 73.96H476.70M225.50 76.95H487.60M286.90 79.94H398.40M204.00 82.92H453.80M289.30 85.91H390.20M285.30 88.89H381.60M182.70 91.88H491.90M231.80 94.87H425.00M176.70 97.85H469.70M226.90 100.84H426.70M223.60 106.81H428.30M168.70 109.80H483.90M270.80 115.77H370.60M165.70 118.75H518.70M160.60 121.74H470.40M155.90 127.71H452.80M256.80 130.70H358.20M155.90 133.68H462.20M156.10 136.67H458.90M159.40 139.66H437.40M148.40 142.64H461.90M189.30 145.63H411.70M148.40 151.60H444.20M124.60 157.57H416.40M242.80 163.54H333.90M189.30 169.52H383.00M213.80 175.49H368.00M97.00 178.47H469.00M217.80 181.46H338.20M112.20 184.45H449.60M215.50 190.42H325.60M130.70 193.40H383.00M115.00 196.39H423.90M210.80 199.38H317.60M103.80 202.36H422.00M211.30 208.33H307.10M124.40 211.32H390.50M206.10 214.31H302.70M94.50 217.29H404.50M192.60 220.28H298.70M192.60 223.26H296.40M77.70 226.25H416.00M196.00 229.24H291.80M196.10 232.22H291.20M137.00 235.21H350.30M88.20 238.19H391.70M196.10 241.18H282.60M140.10 244.17H334.00M90.30 250.14H383.50M130.70 256.11H339.80M131.20 265.07H331.70M74.20 268.05H374.40M73.30 271.04H374.40M117.90 274.03H342.70M78.20 282.98H368.70M117.70 285.97H319.80M67.00 291.94H365.40M106.00 294.93H326.80M165.10 297.91H259.80M90.40 300.90H329.90M162.10 303.89H257.40M152.30 306.87H249.20M148.10 309.86H245.70M93.90 312.84H297.60M139.60 315.83H240.50M141.00 318.82H236.50M89.60 324.79H281.60M118.50 336.73H214.30M109.20 342.70H210.20M98.90 348.68H204.20M89.60 354.65H205.90M92.40 357.63H195.20M92.50 363.61H189.70M76.90 372.56H185.00M90.20 375.55H170.80M63.50 384.51H150.40" stroke="#1232ff" stroke-width="1.7" fill="none"/>
<rect x="34.1" y="0.9" width="649.5" height="396.5" fill="none" stroke="#3c3c3c" stroke-width="1.2"/>
<path d="M27.3 2.30H34.1M27.3 5.29H34.1M27.3 8.27H34.1M27.3 11.26H34.1M27.3 14.24H34.1M27.3 17.23H34.1M27.3 20.22H34.1M27.3 23.20H34.1M27.3 26.19H34.1M27.3 29.17H34.1M27.3 32.16H34.1M27.3 35.15H34.1M27.3 38.13H34.1M27.3 41.12H34.1M27.3 44.10H34.1M27.3 47.09H34.1M27.3 50.08H34.1M27.3 53.06H34.1M27.3 56.05H34.1M27.3 59.03H34.1M27.3 62.02H34.1M27.3 65.01H34.1M27.3 67.99H34.1M27.3 70.98H34.1M27.3 73.96H34.1M27.3 76.95H34.1M27.3 79.94H34.1M27.3 82.92H34.1M27.3 85.91H34.1M27.3 88.89H34.1M27.3 91.88H34.1M27.3 94.87H34.1M27.3 97.85H34.1M27.3 100.84H34.1M27.3 103.82H34.1M27.3 106.81H34.1M27.3 109.80H34.1M27.3 112.78H34.1M27.3 115.77H34.1M27.3 118.75H34.1M27.3 121.74H34.1M27.3 124.73H34.1M27.3 127.71H34.1M27.3 130.70H34.1M27.3 133.68H34.1M27.3 136.67H34.1M27.3 139.66H34.1M27.3 142.64H34.1M27.3 145.63H34.1M27.3 148.61H34.1M27.3 151.60H34.1M27.3 154.59H34.1M27.3 157.57H34.1M27.3 160.56H34.1M27.3 163.54H34.1M27.3 166.53H34.1M27.3 169.52H34.1M27.3 172.50H34.1M27.3 175.49H34.1M27.3 178.47H34.1M27.3 181.46H34.1M27.3 184.45H34.1M27.3 187.43H34.1M27.3 190.42H34.1M27.3 193.40H34.1M27.3 196.39H34.1M27.3 199.38H34.1M27.3 202.36H34.1M27.3 205.35H34.1M27.3 208.33H34.1M27.3 211.32H34.1M27.3 214.31H34.1M27.3 217.29H34.1M27.3 220.28H34.1M27.3 223.26H34.1M27.3 226.25H34.1M27.3 229.24H34.1M27.3 232.22H34.1M27.3 235.21H34.1M27.3 238.19H34.1M27.3 241.18H34.1M27.3 244.17H34.1M27.3 247.15H34.1M27.3 250.14H34.1M27.3 253.12H34.1M27.3 256.11H34.1M27.3 259.10H34.1M27.3 262.08H34.1M27.3 265.07H34.1M27.3 268.05H34.1M27.3 271.04H34.1M27.3 274.03H34.1M27.3 277.01H34.1M27.3 280.00H34.1M27.3 282.98H34.1M27.3 285.97H34.1M27.3 288.96H34.1M27.3 291.94H34.1M27.3 294.93H34.1M27.3 297.91H34.1M27.3 300.90H34.1M27.3 303.89H34.1M27.3 306.87H34.1M27.3 309.86H34.1M27.3 312.84H34.1M27.3 315.83H34.1M27.3 318.82H34.1M27.3 321.80H34.1M27.3 324.79H34.1M27.3 327.77H34.1M27.3 330.76H34.1M27.3 333.75H34.1M27.3 336.73H34.1M27.3 339.72H34.1M27.3 342.70H34.1M27.3 345.69H34.1M27.3 348.68H34.1M27.3 351.66H34.1M27.3 354.65H34.1M27.3 357.63H34.1M27.3 360.62H34.1M27.3 363.61H34.1M27.3 366.59H34.1M27.3 369.58H34.1M27.3 372.56H34.1M27.3 375.55H34.1M27.3 378.54H34.1M27.3 381.52H34.1M27.3 384.51H34.1M27.3 387.49H34.1M27.3 390.48H34.1M27.3 393.47H34.1M27.3 396.45H34.1" stroke="#303030" stroke-width="2.1" fill="none"/>
<path d="M137.05 397.4V403.8M329.17 397.4V403.8M521.29 397.4V403.8" stroke="#2a2a2a" stroke-width="1.9" fill="none"/>
<text x="137.05" y="419.7" font-size="15.1" fill="#4d4d4d" text-anchor="middle">10</text>
<text x="329.17" y="419.7" font-size="15.1" fill="#4d4d4d" text-anchor="middle">12</text>
<text x="521.29" y="419.7" font-size="15.1" fill="#4d4d4d" text-anchor="middle">14</text>
<text x="358.65" y="441.8" font-size="17.4" fill="#000" text-anchor="middle">Age (years)</text>
<text transform="translate(17.2 199.6) rotate(-90)" x="0" y="0" font-size="17.5" fill="#000" text-anchor="middle">Participant</text>
<text x="-0.2" y="19.6" font-size="17.0" font-weight="bold" fill="#000" stroke="#000" stroke-width="0.35">A</text>
<text x="1.1" y="478.1" font-size="16.0" font-weight="bold" fill="#000" stroke="#000" stroke-width="0.35">B</text>
<path d="M19.0 498.11H371.4M19.0 525.27H371.4M19.0 552.43H371.4M19.0 579.59H371.4M19.0 606.75H371.4M19.0 633.91H371.4M19.0 661.07H371.4M19.0 688.23H371.4M19.0 715.39H371.4M19.0 742.55H371.4M19.0 769.71H371.4M19.0 796.87H371.4M19.0 824.03H371.4" stroke="#f3f3f3" stroke-width="1" fill="none"/>
<path d="M18.0 465.95H372.4M18.0 493.11H372.4M18.0 520.27H372.4M18.0 547.43H372.4M18.0 574.59H372.4M18.0 601.75H372.4M18.0 628.91H372.4M18.0 656.07H372.4M18.0 683.23H372.4M18.0 710.39H372.4M18.0 737.55H372.4M18.0 764.71H372.4M18.0 791.87H372.4M18.0 819.03H372.4M18.0 846.19H372.4M18.0 465.95V846.19M272.1 465.95V846.19M372.4 465.95V846.19" stroke="#a8a8a8" stroke-width="1.1" fill="none"/>
<text transform="translate(23.0 484.80) scale(1 1.045)" font-size="14.95" font-weight="bold" stroke="#000" stroke-width="0.25" fill="#000">Measure</text>
<text transform="translate(367.9 484.80) scale(1 1.045)" font-size="14.95" font-weight="bold" stroke="#000" stroke-width="0.25" fill="#000" text-anchor="end">Value</text>
<text transform="translate(23.0 511.96) scale(1 1.045)" font-size="14.95" fill="#000">Participants, No.</text>
<text transform="translate(367.9 511.96) scale(1 1.045)" font-size="14.95" fill="#000" text-anchor="end">133</text>
<text transform="translate(23.0 539.12) scale(1 1.045)" font-size="14.95" fill="#000">Scans per participant, mean (SD)</text>
<text transform="translate(367.9 539.12) scale(1 1.045)" font-size="14.95" fill="#000" text-anchor="end">2.58 (1.18)</text>
<text transform="translate(23.0 566.28) scale(1 1.045)" font-size="14.95" fill="#000">Inter-scan interval, mean (SD), years</text>
<text transform="translate(367.9 566.28) scale(1 1.045)" font-size="14.95" fill="#000" text-anchor="end">1.16 (0.38)</text>
<text transform="translate(23.0 593.44) scale(1 1.045)" font-size="14.95" fill="#000">No. of participants with:</text>
<text transform="translate(267.4 620.60) scale(1 1.045)" font-size="14.95" fill="#000" text-anchor="end">1 scan</text>
<text transform="translate(367.9 620.60) scale(1 1.045)" font-size="14.95" fill="#000" text-anchor="end">32</text>
<text transform="translate(267.4 647.76) scale(1 1.045)" font-size="14.95" fill="#000" text-anchor="end">2 scans</text>
<text transform="translate(367.9 647.76) scale(1 1.045)" font-size="14.95" fill="#000" text-anchor="end">36</text>
<text transform="translate(267.4 674.92) scale(1 1.045)" font-size="14.95" fill="#000" text-anchor="end">3 scans</text>
<text transform="translate(367.9 674.92) scale(1 1.045)" font-size="14.95" fill="#000" text-anchor="end">21</text>
<text transform="translate(267.4 702.08) scale(1 1.045)" font-size="14.95" fill="#000" text-anchor="end">4 scans</text>
<text transform="translate(367.9 702.08) scale(1 1.045)" font-size="14.95" fill="#000" text-anchor="end">44</text>
<text transform="translate(23.0 729.24) scale(1 1.045)" font-size="14.95" fill="#000">Total no. of scans at:</text>
<text transform="translate(267.4 756.40) scale(1 1.045)" font-size="14.95" fill="#000" text-anchor="end">Time 1</text>
<text transform="translate(367.9 756.40) scale(1 1.045)" font-size="14.95" fill="#000" text-anchor="end">131</text>
<text transform="translate(267.4 783.56) scale(1 1.045)" font-size="14.95" fill="#000" text-anchor="end">Time 2</text>
<text transform="translate(367.9 783.56) scale(1 1.045)" font-size="14.95" fill="#000" text-anchor="end">95</text>
<text transform="translate(267.4 810.72) scale(1 1.045)" font-size="14.95" fill="#000" text-anchor="end">Time 3</text>
<text transform="translate(367.9 810.72) scale(1 1.045)" font-size="14.95" fill="#000" text-anchor="end">64</text>
<text transform="translate(267.4 837.88) scale(1 1.045)" font-size="14.95" fill="#000" text-anchor="end">Time 4</text>
<text transform="translate(367.9 837.88) scale(1 1.045)" font-size="14.95" fill="#000" text-anchor="end">53</text>
</svg>
</body></html>
